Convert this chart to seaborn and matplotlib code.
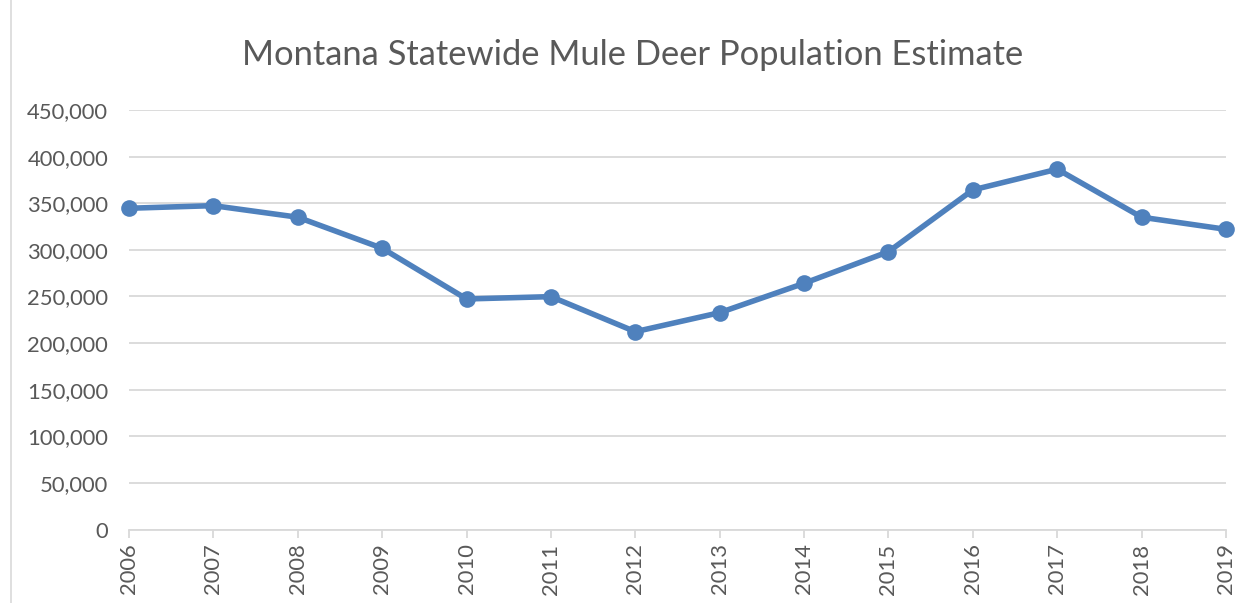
import matplotlib
matplotlib.use("Agg")
import matplotlib.pyplot as plt
import matplotlib.ticker as mticker
import seaborn as sns
import pandas as pd
from matplotlib.patches import Rectangle

years = [2006, 2007, 2008, 2009, 2010, 2011, 2012, 2013, 2014, 2015, 2016, 2017, 2018, 2019]
population = [344600, 347400, 335000, 301700, 247300, 249800, 212200, 232600, 264100, 298000, 364300, 386500, 335000, 322000]
yticks = [0, 50000, 100000, 150000, 200000, 250000, 300000, 350000, 400000, 450000]
title = "Montana Statewide Mule Deer Population Estimate"

df = pd.DataFrame({"year": years, "population": population})

sns.set_theme(style="white")
plt.rcParams['font.family'] = ['Lato', 'DejaVu Sans']

text_color = "#595959"
grid_color = "#D9D9D9"
line_color = "#4F81BD"

fig = plt.figure(figsize=(12.4, 6.03), dpi=100)
ax = fig.add_axes([129/1240, 1 - 529.5/603, (1226-129)/1240, (529.5-110)/603])

sns.lineplot(data=df, x="year", y="population", ax=ax, color=line_color,
             linewidth=4.0, marker="o", markersize=12, markeredgewidth=0,
             zorder=3, clip_on=False)

ax.set_xlim(years[0], years[-1])
ax.set_ylim(0, 450000)
ax.set_yticks(yticks)
ax.yaxis.set_major_formatter(mticker.FuncFormatter(lambda v, p: f"{int(v):,}"))
ax.set_xticks(years)
ax.set_xticklabels([str(y) for y in years], rotation=90)

ax.grid(axis="y", color=grid_color, linewidth=1.3, zorder=0)
ax.grid(axis="x", visible=False)
for s in ["top", "right", "left"]:
    ax.spines[s].set_visible(False)
ax.spines["bottom"].set_color(grid_color)
ax.spines["bottom"].set_linewidth(1.3)
ax.spines["bottom"].set_zorder(1)

ax.tick_params(axis="y", length=0, labelsize=15.8, labelcolor=text_color, pad=15)
ax.tick_params(axis="x", length=6, width=1.3, color=grid_color, direction="out",
               bottom=True, labelsize=15.8, labelcolor=text_color, pad=4)
ax.set_xlabel("")
ax.set_ylabel("")

fig.text(633/1240, 1 - 55/603, title, ha="center", va="center", fontsize=24.8, color=text_color)

fig.patches.append(Rectangle((11/1240, -0.01), 1.05, 1.02, transform=fig.transFigure,
                             fill=False, edgecolor="#D9D9D9", linewidth=1.2))

fig.savefig("out.png", dpi=100)
